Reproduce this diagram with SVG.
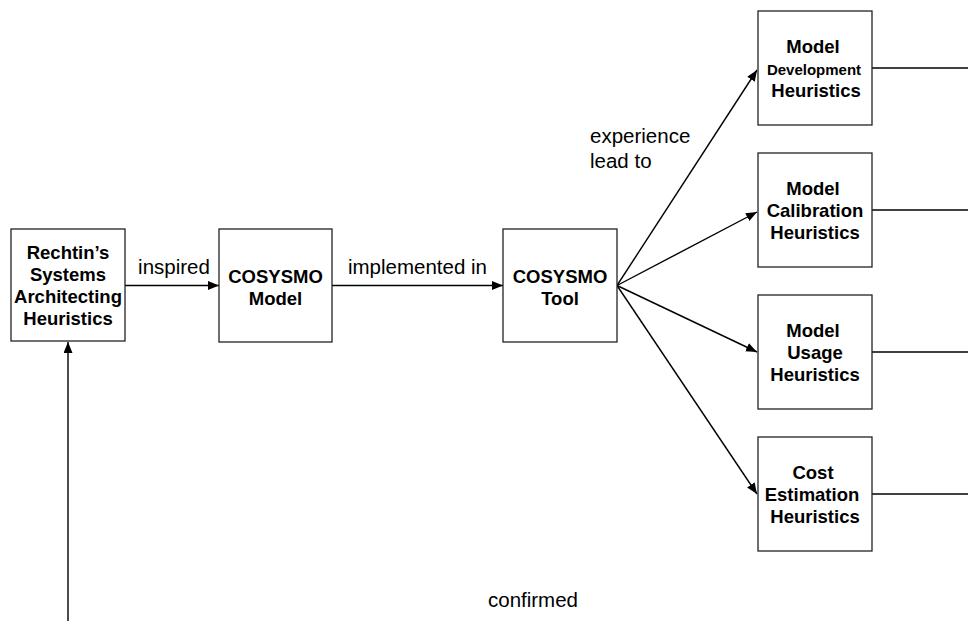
<svg xmlns="http://www.w3.org/2000/svg" width="968" height="621" viewBox="0 0 968 621">
<style>
.box{fill:#fff;stroke:#222;stroke-width:1.3}
.nt{font-family:"Liberation Sans",Arial,sans-serif;font-weight:bold;font-size:18.5px;fill:#000;text-anchor:middle}
.sm{font-size:15px}
.lbl{font-family:"Liberation Sans",Arial,sans-serif;font-size:20.5px;fill:#000}
.ln{stroke:#000;stroke-width:1.4;fill:none}
</style>
<defs>
<marker id="ah" markerUnits="userSpaceOnUse" markerWidth="12" markerHeight="10" refX="11" refY="4.5" orient="auto">
<path d="M0,0 L11,4.5 L0,9 z" fill="#000"/>
</marker>
</defs>
<rect width="968" height="621" fill="#fff"/>
<g id="connectors">
<line class="ln" x1="125" y1="285.5" x2="219" y2="285.5" marker-end="url(#ah)"/>
<line class="ln" x1="332" y1="285.5" x2="503" y2="285.5" marker-end="url(#ah)"/>
<line class="ln" x1="617" y1="285.5" x2="757" y2="70" marker-end="url(#ah)"/>
<line class="ln" x1="617" y1="285.5" x2="757" y2="212" marker-end="url(#ah)"/>
<line class="ln" x1="617" y1="285.5" x2="757" y2="352" marker-end="url(#ah)"/>
<line class="ln" x1="617" y1="285.5" x2="757" y2="494" marker-end="url(#ah)"/>
<line class="ln" x1="68" y1="621" x2="68" y2="342" marker-end="url(#ah)"/>
<line class="ln" x1="872" y1="68" x2="968" y2="68"/>
<line class="ln" x1="872" y1="210" x2="968" y2="210"/>
<line class="ln" x1="872" y1="352" x2="968" y2="352"/>
<line class="ln" x1="872" y1="494" x2="968" y2="494"/>
<text class="lbl" x="174" y="274" text-anchor="middle">inspired</text>
<text class="lbl" x="417.5" y="274" text-anchor="middle">implemented in</text>
<text class="lbl" x="590" y="143">experience</text>
<text class="lbl" x="590" y="168">lead to</text>
<text class="lbl" x="533" y="607" text-anchor="middle">confirmed</text>
</g>
<g id="rechtin">
<rect class="box" x="11" y="229" width="114" height="112"/>
<text class="nt" x="68" y="259">Rechtin’s</text>
<text class="nt" x="68" y="281">Systems</text>
<text class="nt" x="68" y="303">Architecting</text>
<text class="nt" x="68" y="325">Heuristics</text>
</g>
<g id="cosysmo-model">
<rect class="box" x="219" y="229" width="113" height="113"/>
<text class="nt" x="275.5" y="283">COSYSMO</text>
<text class="nt" x="275.5" y="305">Model</text>
</g>
<g id="cosysmo-tool">
<rect class="box" x="503" y="229" width="114" height="113"/>
<text class="nt" x="560" y="283">COSYSMO</text>
<text class="nt" x="560" y="305">Tool</text>
</g>
<g id="dev">
<rect class="box" x="758" y="11" width="114" height="114"/>
<text class="nt" x="813" y="53">Model</text>
<text class="nt sm" x="814" y="75">Development</text>
<text class="nt" x="816" y="97">Heuristics</text>
</g>
<g id="calib">
<rect class="box" x="758" y="153" width="114" height="114"/>
<text class="nt" x="813" y="195">Model</text>
<text class="nt" x="815" y="217">Calibration</text>
<text class="nt" x="815" y="239">Heuristics</text>
</g>
<g id="usage">
<rect class="box" x="758" y="295" width="114" height="114"/>
<text class="nt" x="813" y="337">Model</text>
<text class="nt" x="815" y="359">Usage</text>
<text class="nt" x="815" y="381">Heuristics</text>
</g>
<g id="cost">
<rect class="box" x="758" y="437" width="114" height="114"/>
<text class="nt" x="813" y="479">Cost</text>
<text class="nt" x="812" y="501">Estimation</text>
<text class="nt" x="815" y="523">Heuristics</text>
</g>
</svg>
